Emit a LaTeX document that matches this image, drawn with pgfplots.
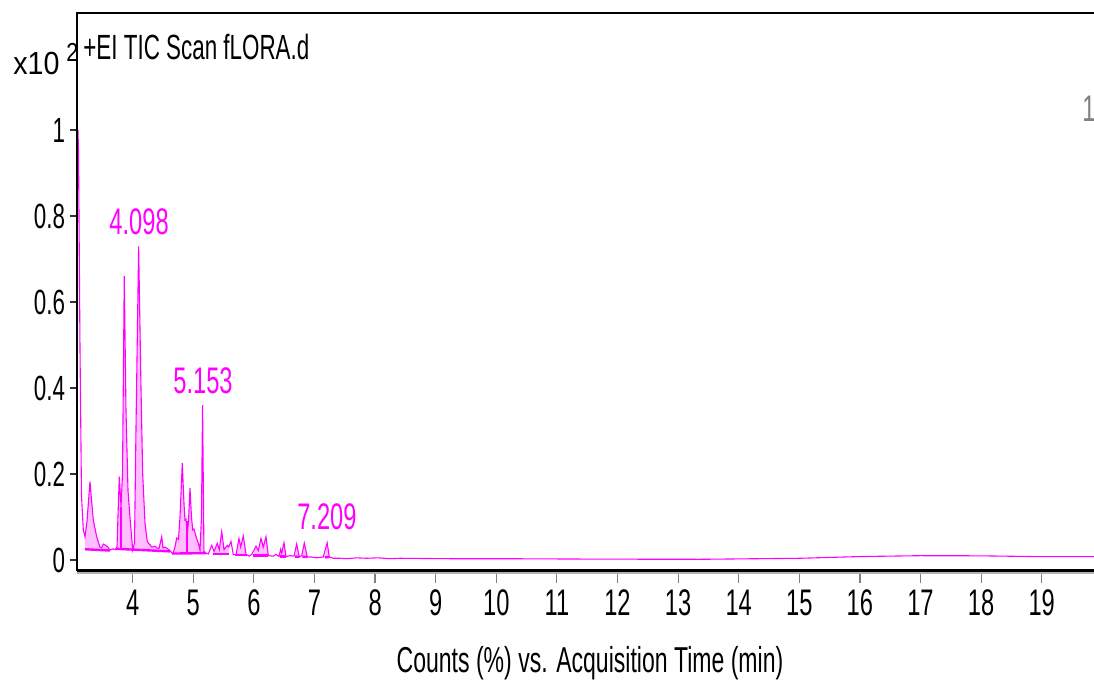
\documentclass[border=0pt]{standalone}
\usepackage{pgfplots}
\pgfplotsset{compat=1.18}
\usepackage{graphicx}
\usepackage{fontspec}
\setmainfont{Liberation Sans}[FakeStretch=0.64]
\definecolor{mag}{RGB}{255,0,255}
\definecolor{pinkfill}{RGB}{255,190,255}
\begin{document}
\begin{tikzpicture}[x=1pt,y=1pt]
\useasboundingbox (0,0) rectangle (547,341);
\begin{axis}[
  at={(38.5pt,55.5pt)}, anchor=south west,
  scale only axis, width=508.5pt, height=279pt,
  xmin=3.081, xmax=19.863, ymin=-0.0256, ymax=1.272,
  axis line style={draw=none},
  clip=false,
  tick pos=left,
  tick align=outside,
  /pgf/number format/assume math mode=true,
  xtick={4,5,6,7,8,9,10,11,12,13,14,15,16,17,18,19},
  xticklabels={4,5,6,7,8,9,10,11,12,13,14,15,16,17,18,19},
  ytick={0,0.2,0.4,0.6,0.8,1},
  yticklabels={0,0.2,0.4,0.6,0.8,1},
  xtick style={gray, line width=0.6pt, /pgfplots/major tick length=6pt},
  ytick style={black!80, line width=0.6pt, /pgfplots/major tick length=3.5pt},
  xticklabel style={font=\fontsize{18.5}{20}\selectfont, inner sep=0pt, yshift=-5pt},
  yticklabel style={font=\fontsize{17.5}{19}\selectfont, inner sep=0pt, xshift=-1.5pt},
]
% integrated peak areas
\addplot[fill=pinkfill, draw=none] coordinates {(3.213,0.025) (3.213,0.054) (3.246,0.09) (3.295,0.182) (3.320,0.14) (3.350,0.093) (3.406,0.054) (3.460,0.030) (3.485,0.028) (3.515,0.037) (3.559,0.034) (3.592,0.030) (3.625,0.023) (3.625,0.022)};
\addplot[fill=pinkfill, draw=none] coordinates {(3.725,0.026) (3.725,0.027) (3.741,0.030) (3.779,0.194) (3.807,0.124) (3.832,0.200) (3.861,0.660) (3.889,0.350) (3.923,0.160) (3.955,0.100) (4.000,0.023) (4.030,0.040) (4.054,0.300) (4.098,0.729) (4.137,0.400) (4.165,0.200) (4.203,0.086) (4.241,0.043) (4.285,0.035) (4.318,0.030) (4.368,0.032) (4.401,0.028) (4.434,0.027) (4.479,0.054) (4.500,0.028) (4.533,0.030) (4.566,0.027) (4.616,0.022) (4.616,0.020)};
\addplot[fill=pinkfill, draw=none] coordinates {(4.665,0.015) (4.698,0.030) (4.726,0.051) (4.756,0.048) (4.781,0.100) (4.818,0.225) (4.847,0.130) (4.863,0.093) (4.880,0.095) (4.901,0.060) (4.921,0.090) (4.946,0.167) (4.970,0.100) (4.990,0.070) (5.012,0.072) (5.045,0.055) (5.083,0.039) (5.111,0.023) (5.135,0.100) (5.153,0.360) (5.176,0.020) (5.209,0.016)};
\addplot[fill=pinkfill, draw=none] coordinates {(5.33,0.014) (5.342,0.020) (5.396,0.039) (5.429,0.024) (5.469,0.066) (5.507,0.024) (5.561,0.034) (5.584,0.030) (5.59,0.014)};
\addplot[fill=pinkfill, draw=none] coordinates {(5.69,0.012) (5.705,0.012) (5.754,0.050) (5.782,0.030) (5.825,0.056) (5.870,0.013) (5.88,0.012)};
\addplot[fill=pinkfill, draw=none] coordinates {(5.99,0.010) (6.035,0.032) (6.073,0.022) (6.117,0.050) (6.155,0.030) (6.200,0.054) (6.238,0.010)};
\addplot[fill=pinkfill, draw=none] coordinates {(6.43,0.008) (6.442,0.025) (6.459,0.016) (6.497,0.040) (6.530,0.008)};
\addplot[fill=pinkfill, draw=none] coordinates {(6.68,0.008) (6.706,0.037) (6.749,0.007)};
\addplot[fill=pinkfill, draw=none] coordinates {(6.80,0.008) (6.832,0.039) (6.881,0.007)};
\addplot[fill=pinkfill, draw=none] coordinates {(7.17,0.006) (7.209,0.040) (7.244,0.007)};
% integration baselines and drop lines
\addplot[mag, line width=1.2pt] coordinates {(3.213,0.025) (3.625,0.022)};
\addplot[mag, line width=1.2pt] coordinates {(3.725,0.026) (4.616,0.020)};
\addplot[mag, line width=1.2pt] coordinates {(4.665,0.015) (5.209,0.016)};
\addplot[mag, line width=1.2pt] coordinates {(5.33,0.014) (5.59,0.014)};
\addplot[mag, line width=1.2pt] coordinates {(5.69,0.012) (5.88,0.012)};
\addplot[mag, line width=1.2pt] coordinates {(5.99,0.010) (6.238,0.010)};
\addplot[mag, line width=1.2pt] coordinates {(6.43,0.008) (6.53,0.008)};
\addplot[mag, line width=1.2pt] coordinates {(6.68,0.008) (6.749,0.007)};
\addplot[mag, line width=1.2pt] coordinates {(6.80,0.008) (6.881,0.007)};
\addplot[mag, line width=1.2pt] coordinates {(7.17,0.006) (7.244,0.007)};
\addplot[mag, line width=0.9pt] coordinates {(3.807,0.025) (3.807,0.124)};
\addplot[mag, line width=0.9pt] coordinates {(4.000,0.023) (4.000,0.030)};
\addplot[mag, line width=0.9pt] coordinates {(4.89,0.015) (4.89,0.09)};
% TIC trace
\addplot[mag, line width=0.55pt] coordinates {
(3.097,1.0) (3.106,0.95) (3.130,0.5) (3.155,0.15) (3.185,0.07) (3.213,0.054) (3.246,0.09) (3.295,0.182) (3.320,0.14) (3.350,0.093)
(3.406,0.054) (3.460,0.030) (3.485,0.028) (3.515,0.037) (3.559,0.034) (3.592,0.030) (3.625,0.023) (3.675,0.026) (3.708,0.024) (3.741,0.030)
(3.779,0.194) (3.807,0.124) (3.832,0.200) (3.861,0.660) (3.889,0.350) (3.923,0.160) (3.955,0.100) (4.000,0.023) (4.030,0.040) (4.054,0.300)
(4.098,0.729) (4.137,0.400) (4.165,0.200) (4.203,0.086) (4.241,0.043) (4.285,0.035) (4.318,0.030) (4.368,0.032) (4.401,0.028) (4.434,0.027)
(4.479,0.054) (4.500,0.028) (4.533,0.030) (4.566,0.027) (4.616,0.022) (4.660,0.014) (4.698,0.030) (4.726,0.051) (4.756,0.048) (4.781,0.100)
(4.818,0.225) (4.847,0.130) (4.863,0.093) (4.880,0.095) (4.901,0.060) (4.921,0.090) (4.946,0.167) (4.970,0.100) (4.990,0.070) (5.012,0.072)
(5.045,0.055) (5.083,0.039) (5.111,0.023) (5.135,0.100) (5.153,0.360) (5.176,0.020) (5.209,0.016) (5.248,0.014) (5.304,0.034) (5.342,0.020)
(5.396,0.039) (5.429,0.024) (5.469,0.066) (5.507,0.024) (5.561,0.034) (5.584,0.030) (5.622,0.043) (5.660,0.013) (5.705,0.012) (5.754,0.050)
(5.782,0.030) (5.825,0.056) (5.870,0.013) (5.924,0.009) (5.964,0.013) (6.035,0.032) (6.073,0.022) (6.117,0.050) (6.155,0.030) (6.200,0.054)
(6.238,0.010) (6.320,0.009) (6.365,0.013) (6.414,0.008) (6.442,0.025) (6.459,0.016) (6.497,0.040) (6.530,0.008) (6.596,0.010) (6.662,0.009)
(6.706,0.037) (6.749,0.007) (6.789,0.010) (6.832,0.039) (6.881,0.007) (6.954,0.007) (7.036,0.005) (7.145,0.007) (7.209,0.040) (7.244,0.007)
(7.310,0.004) (7.421,0.004) (7.531,0.003) (7.696,0.005) (7.861,0.004) (8.048,0.005) (8.246,0.003) (8.411,0.004) (9.236,0.003) (10.061,0.003)
(11.711,0.002) (13.361,0.0016) (15.012,0.004) (16.002,0.008) (16.992,0.010) (17.982,0.0097) (18.857,0.008) (19.863,0.0077)
};
% peak labels
\node[mag, anchor=base, inner sep=0pt, font=\fontsize{18.5}{20}\selectfont] at (axis cs:4.105,0.756) {4.098};
\node[mag, anchor=base, inner sep=0pt, font=\fontsize{18.5}{20}\selectfont] at (axis cs:5.16,0.388) {5.153};
\node[mag, anchor=base, inner sep=0pt, font=\fontsize{18.5}{20}\selectfont] at (axis cs:7.205,0.070) {7.209};
% frame
\draw[black, line width=1pt] (rel axis cs:0,0) -- (rel axis cs:0,1) -- (rel axis cs:1,1);
\draw[black, line width=1.5pt] ([yshift=0.5pt]rel axis cs:0,0) -- ([yshift=0.5pt]rel axis cs:1,0);
\draw[gray!60, line width=0.8pt] ([yshift=-0.9pt]rel axis cs:0,0) -- ([yshift=-0.9pt]rel axis cs:1,0);
\end{axis}
\node[anchor=base west, inner sep=0pt, font=\fontsize{17.5}{19}\selectfont] at (41.5,311) {+EI TIC Scan fLORA.d};
\node[anchor=base west, inner sep=0pt, font=\fontsize{16}{18}\selectfont] at (6.5,303.5) {\scalebox{1.4}[1]{x10}};
\node[anchor=base west, inner sep=0pt, font=\fontsize{13}{15}\selectfont] at (33,310) {\scalebox{1.3}[1]{2}};
\node[anchor=base east, inner sep=0pt, gray, font=\fontsize{18.5}{20}\selectfont] at (548,280) {1};
\node[anchor=base, inner sep=0pt, font=\fontsize{18}{20}\selectfont] at (295,5) {Counts (\%) vs. Acquisition Time (min)};
\end{tikzpicture}
\end{document}
